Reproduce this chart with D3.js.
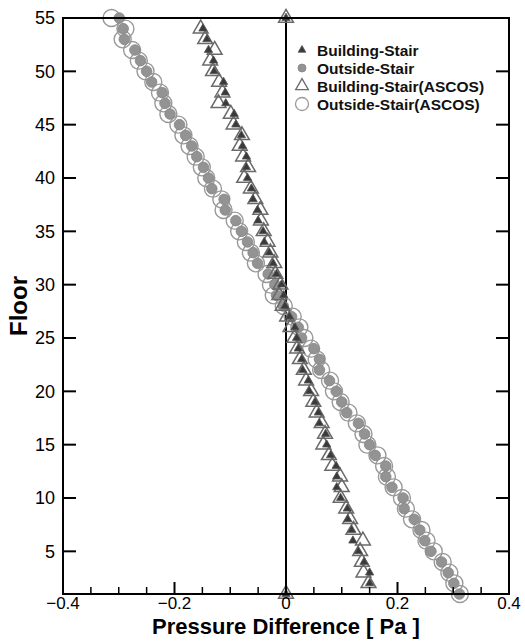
<!DOCTYPE html>
<html>
<head>
<meta charset="utf-8">
<style>
  body { margin: 0; background: #fff; }
  svg { display: block; font-family: Arial, "Liberation Sans", sans-serif; }
</style>
</head>
<body>
<svg width="525" height="641"></svg>

<script src="https://d3js.org/d3.v7.min.js"></script>
<script>
	// floors, bottom to top
	const floors = [1, 2, 3, 4, 5, 6, 7, 8, 9, 10, 11, 12, 13, 14, 15, 16, 17, 18, 19, 20,
		21, 22, 23, 24, 25, 26, 27, 28, 29, 30, 31, 32, 33, 34, 35, 36, 37, 38, 39, 40,
		41, 42, 43, 44, 45, 46, 47, 48, 49, 50, 51, 52, 53, 54, 55]

	const buildingStair = [0, 0.150, 0.150, 0.140, 0.130, 0.120, 0.118, 0.111, 0.110, 0.098,
		0.091, 0.091, 0.090, 0.080, 0.073, 0.071, 0.060, 0.058, 0.052, 0.042,
		0.040, 0.030, 0.028, 0.022, 0.019, 0.016, 0.006, -0.002, -0.004, -0.008,
		-0.017, -0.023, -0.030, -0.039, -0.041, -0.050, -0.051, -0.059, -0.062, -0.069,
		-0.071, -0.071, -0.078, -0.080, -0.090, -0.093, -0.108, -0.109, -0.112, -0.129,
		-0.130, -0.139, -0.142, -0.149, 0]

	const outsideStair = [0.311, 0.301, 0.291, 0.279, 0.260, 0.249, 0.240, 0.230, 0.212, 0.210,
		0.190, 0.179, 0.179, 0.160, 0.150, 0.141, 0.130, 0.109, 0.100, 0.090,
		0.078, 0.060, 0.060, 0.050, 0.028, 0.022, 0.010, -0.005, -0.017, -0.020,
		-0.032, -0.051, -0.059, -0.069, -0.080, -0.090, -0.109, -0.111, -0.133, -0.139,
		-0.148, -0.160, -0.169, -0.180, -0.191, -0.208, -0.217, -0.222, -0.241, -0.250,
		-0.261, -0.271, -0.290, -0.292, -0.299]

	const buildingStairAscos = [0, 0.148, 0.139, 0.136, 0.133, 0.138, 0.121, 0.115, 0.108, 0.098,
		0.100, 0.097, 0.083, 0.077, 0.067, 0.070, 0.064, 0.055, 0.049, 0.045,
		0.036, 0.032, 0.025, 0.020, 0.015, 0.008, 0.002, -0.006, -0.012, -0.010,
		-0.019, -0.021, -0.028, -0.033, -0.040, -0.045, -0.046, -0.055, -0.063, -0.075,
		-0.068, -0.077, -0.083, -0.079, -0.094, -0.099, -0.121, -0.114, -0.120, -0.131,
		-0.136, -0.128, -0.145, -0.153, 0]

	const outsideStairAscos = [0.312, 0.302, 0.293, 0.281, 0.265, 0.252, 0.243, 0.226, 0.215, 0.208,
		0.193, 0.181, 0.176, 0.164, 0.146, 0.139, 0.127, 0.112, 0.098, 0.086,
		0.079, 0.063, 0.055, 0.045, 0.033, 0.024, 0.012, -0.004, -0.022, -0.027,
		-0.035, -0.054, -0.063, -0.072, -0.084, -0.092, -0.112, -0.116, -0.131, -0.143,
		-0.151, -0.162, -0.173, -0.184, -0.193, -0.211, -0.220, -0.226, -0.238, -0.252,
		-0.264, -0.276, -0.293, -0.288, -0.313]

	const xMajor = [-0.4, -0.2, 0, 0.2, 0.4]
	const xMinor = [-0.35, -0.3, -0.25, -0.15, -0.1, -0.05, 0.05, 0.1, 0.15, 0.25, 0.3, 0.35]
	const yTicks = [5, 10, 15, 20, 25, 30, 35, 40, 45, 50, 55]

	const legendLabels = ["Building-Stair", "Outside-Stair", "Building-Stair(ASCOS)", "Outside-Stair(ASCOS)"]

	const margin = {top: 18, right: 16, bottom: 47, left: 63}
	const width = 525, height = 641

	const x = d3.scaleLinear().domain([-0.4, 0.4]).range([margin.left, width - margin.right])
	const y = d3.scaleLinear().domain([1, 55]).range([height - margin.bottom, margin.top])

	const svg = d3.select("svg")

	const triSmall = d3.symbol().type(d3.symbolTriangle).size(30)
	const triBig = d3.symbol().type(d3.symbolTriangle).size(95)

	const styles = [
		{kind: "tri", path: triSmall(), fill: "#3a3a3a", stroke: "#555", sw: 0.8},
		{kind: "circ", r: 5.3, fill: "#939393", stroke: "#858585", sw: 0.8},
		{kind: "tri", path: triBig(), fill: "none", stroke: "#6a6a6a", sw: 1.5},
		{kind: "circ", r: 8.5, fill: "none", stroke: "#999", sw: 1.4}
	]

	const series = [buildingStair, outsideStair, buildingStairAscos, outsideStairAscos]

	// draw order: hollow circles, filled circles, hollow triangles, filled triangles
	const order = [3, 1, 2, 0]

	// zero line
	svg.append("line")
		.attr("x1", x(0)).attr("x2", x(0))
		.attr("y1", y(1)).attr("y2", y(55))
		.attr("stroke", "#000").attr("stroke-width", 2)

	const plot = svg.append("g")
	order.forEach(si => {
		const st = styles[si]
		const pts = floors.map((f, i) => ({f, v: series[si][i]}))
		const g = plot.append("g")
		if (st.kind === "circ") {
			g.selectAll("circle").data(pts).join("circle")
				.attr("cx", d => x(d.v)).attr("cy", d => y(d.f))
				.attr("r", st.r)
				.attr("fill", st.fill).attr("stroke", st.stroke).attr("stroke-width", st.sw)
		} else {
			g.selectAll("path").data(pts).join("path")
				.attr("transform", d => `translate(${x(d.v)},${y(d.f)})`)
				.attr("d", st.path)
				.attr("fill", st.fill).attr("stroke", st.stroke).attr("stroke-width", st.sw)
		}
	})

	// frame
	svg.append("rect")
		.attr("x", x(-0.4)).attr("y", y(55))
		.attr("width", x(0.4) - x(-0.4)).attr("height", y(1) - y(55))
		.attr("fill", "none").attr("stroke", "#000").attr("stroke-width", 2)

	// x axis
	const xAxis = svg.append("g")
	xAxis.selectAll(".maj").data(xMajor).join("line")
		.attr("class", "maj")
		.attr("x1", d => x(d)).attr("x2", d => x(d))
		.attr("y1", y(1)).attr("y2", y(1) - 12)
		.attr("stroke", "#000").attr("stroke-width", 2)
	xAxis.selectAll(".min").data(xMinor).join("line")
		.attr("class", "min")
		.attr("x1", d => x(d)).attr("x2", d => x(d))
		.attr("y1", y(1)).attr("y2", y(1) - 7)
		.attr("stroke", "#000").attr("stroke-width", 1.5)
	xAxis.selectAll("text").data(xMajor).join("text")
		.attr("x", d => x(d)).attr("y", 609)
		.attr("text-anchor", "middle")
		.attr("font-size", 17)
		.text(d => d === 0 ? "0" : d3.format(".1f")(d))

	// y axis, ticks on both sides
	const yAxis = svg.append("g")
	yAxis.selectAll(".l").data(yTicks).join("line")
		.attr("class", "l")
		.attr("x1", x(-0.4)).attr("x2", x(-0.4) + 13)
		.attr("y1", d => y(d)).attr("y2", d => y(d))
		.attr("stroke", "#000").attr("stroke-width", 2)
	yAxis.selectAll(".r").data(yTicks).join("line")
		.attr("class", "r")
		.attr("x1", x(0.4)).attr("x2", x(0.4) - 13)
		.attr("y1", d => y(d)).attr("y2", d => y(d))
		.attr("stroke", "#000").attr("stroke-width", 2)
	yAxis.selectAll("text").data(yTicks).join("text")
		.attr("x", x(-0.4) - 8).attr("y", d => y(d))
		.attr("dy", "0.36em")
		.attr("text-anchor", "end")
		.attr("font-size", 18)
		.text(d => d)

	// axis titles
	svg.append("text")
		.attr("x", x(0)).attr("y", 634)
		.attr("text-anchor", "middle")
		.attr("font-size", 22).attr("font-weight", "bold")
		.text("Pressure Difference [ Pa ]")

	svg.append("text")
		.attr("transform", `translate(27,${y(28)}) rotate(-90)`)
		.attr("text-anchor", "middle")
		.attr("font-size", 24).attr("font-weight", "bold")
		.text("Floor")

	// legend
	const legSmall = [
		{kind: "tri", path: d3.symbol().type(d3.symbolTriangle).size(26)(), fill: "#3a3a3a", stroke: "#555", sw: 0.8},
		{kind: "circ", r: 4, fill: "#939393", stroke: "#858585", sw: 0.8},
		{kind: "tri", path: d3.symbol().type(d3.symbolTriangle).size(70)(), fill: "none", stroke: "#6a6a6a", sw: 1.3},
		{kind: "circ", r: 6.5, fill: "none", stroke: "#999", sw: 1.3}
	]
	const legend = svg.append("g").attr("transform", "translate(302,50)")
	legendLabels.forEach((lab, i) => {
		const row = legend.append("g").attr("transform", `translate(0,${i * 18})`)
		const st = legSmall[i]
		if (st.kind === "circ") {
			row.append("circle").attr("r", st.r)
				.attr("fill", st.fill).attr("stroke", st.stroke).attr("stroke-width", st.sw)
		} else {
			row.append("path").attr("d", st.path)
				.attr("fill", st.fill).attr("stroke", st.stroke).attr("stroke-width", st.sw)
		}
		row.append("text")
			.attr("x", 15).attr("dy", "0.36em")
			.attr("font-size", 15.5).attr("font-weight", "bold")
			.attr("fill", "#111")
			.text(lab)
	})
</script>
</body>
</html>
